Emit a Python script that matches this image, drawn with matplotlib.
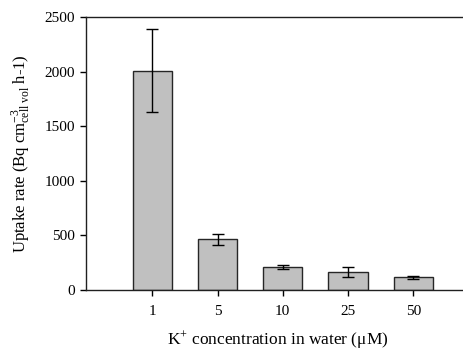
import numpy as np
import matplotlib
matplotlib.use("Agg")
import matplotlib.pyplot as plt

plt.rcParams["font.family"] = ["Liberation Serif", "DejaVu Serif"]
plt.rcParams["mathtext.fontset"] = "custom"
plt.rcParams["mathtext.rm"] = "Liberation Serif"
plt.rcParams["mathtext.it"] = "Liberation Serif:italic"

categories = ["1", "5", "10", "25", "50"]
uptake = [2010, 465, 210, 162, 118]
errors = [380, 50, 22, 46, 14]

fig = plt.figure(figsize=(4.64, 3.5), dpi=100)
ax = fig.add_axes([0.1853, 0.1714, 0.8147 + 0.01, 0.78])

x = np.arange(len(categories))
ax.bar(x, uptake, width=0.6, color="#c0c0c0", edgecolor="#262626", linewidth=1.0, zorder=2)
ax.errorbar(x, uptake, yerr=errors, fmt="none", ecolor="black", elinewidth=1.0,
            capsize=4, capthick=1.0, zorder=3)

ax.set_xlim(-1.017, 4.85)
ax.set_ylim(0, 2500)
ax.set_xticks(x)
ax.set_xticklabels(categories)
ax.set_yticks([0, 500, 1000, 1500, 2000, 2500])
ax.tick_params(axis="both", direction="out", labelsize=11, width=1.0, length=4)
ax.tick_params(axis="x", pad=7)
ax.tick_params(axis="y", pad=4)
ax.spines["right"].set_visible(False)
for s in ["left", "top", "bottom"]:
    ax.spines[s].set_linewidth(1.0)
    ax.spines[s].set_color("#202020")

ax.set_xlabel("K$^{+}$ concentration in water (\u03bcM)", fontsize=12.5, labelpad=8)
ax.set_ylabel("Uptake rate (Bq cm$^{-3}_{\\rm cell\\ vol}$ h-1)", fontsize=12, labelpad=9)

fig.savefig("out.png", dpi=100)
